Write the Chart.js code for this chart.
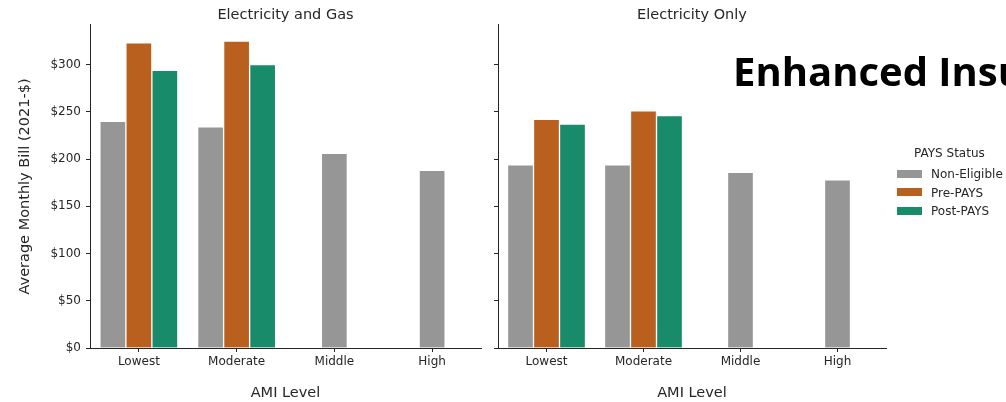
<!DOCTYPE html>
<html>
<head>
<meta charset="utf-8">
<script src="https://cdn.jsdelivr.net/npm/chart.js@4/dist/chart.umd.min.js"></script>
<style>
  html, body { margin: 0; padding: 0; background: #fff; overflow: hidden; }
  body { width: 1006px; height: 402px; position: relative; font-family: 'DejaVu Sans', sans-serif; }
  #gas { position: absolute; left: 0; top: 0; }
  #elec { position: absolute; left: 490px; top: 0; }
  .legend { position: absolute; left: 897px; top: 146px; color: #262626; font-size: 12px; }
  .legend .ttl { position: absolute; left: 17px; top: 0; white-space: nowrap; }
  .legend .row { position: absolute; left: 0; white-space: nowrap; height: 14px; line-height: 14px; }
  .legend .sw { display: inline-block; width: 25px; height: 8px; vertical-align: middle; margin-right: 9px; position: relative; top: -1px; }
  .banner { position: absolute; left: 733px; top: 43px; font-family: 'Open Sans', sans-serif; font-weight: bold; font-size: 40px; color: #000; white-space: nowrap; line-height: 56px; }
</style>
</head>
<body>
<canvas id="gas" width="490" height="402"></canvas>
<canvas id="elec" width="516" height="402"></canvas>
<div class="legend" id="legend"></div>
<div class="banner">Enhanced Insulation</div>
<script>
// data
const categories = ['Lowest', 'Moderate', 'Middle', 'High'];
const seriesNames = ['Non-Eligible', 'Pre-PAYS', 'Post-PAYS'];
const seriesColors = ['#969696', '#b9601f', '#178b6a'];

const gasNonEligible = [240, 234, 206, 188];
const gasPre = [323, 325, null, null];
const gasPost = [294, 300, null, null];

const elecNonEligible = [194, 194, 186, 178];
const elecPre = [242, 251, null, null];
const elecPost = [237, 246, null, null];

const yMax = 342;
const yStep = 50;

Chart.defaults.font.family = 'DejaVu Sans';
Chart.defaults.color = '#262626';

function makeSets(vals) {
  return vals.map((v, i) => ({
    label: seriesNames[i],
    data: v,
    backgroundColor: seriesColors[i],
    borderColor: 'rgba(255,255,255,0.3)',
    borderWidth: 1,
    barThickness: 26,
    skipNull: true
  }));
}

function makeChart(el, title, vals, first) {
  return new Chart(document.getElementById(el), {
    type: 'bar',
    data: { labels: categories, datasets: makeSets(vals) },
    options: {
      responsive: false,
      animation: false,
      layout: { padding: { left: 0, right: first ? 9 : 120, top: 0, bottom: 0 } },
      plugins: {
        legend: { display: false },
        tooltip: { enabled: false },
        title: {
          display: true,
          text: title,
          fullSize: false,
          color: '#262626',
          font: { size: 14.5, weight: 'normal' },
          padding: { top: 7, bottom: 0.5 }
        }
      },
      scales: {
        x: {
          grid: { offset: false, drawOnChartArea: false, drawTicks: true, tickLength: 4, color: '#262626' },
          border: { display: true, color: '#262626', width: 1 },
          ticks: { font: { size: 12 }, padding: 3, color: '#262626' },
          title: { display: true, text: 'AMI Level', font: { size: 14.5 }, color: '#262626', padding: { top: 0, bottom: 0 } },
          afterFit: s => { s.height = 54; }
        },
        y: {
          min: 0,
          max: yMax,
          grid: { drawOnChartArea: false, drawTicks: true, tickLength: 4, color: '#262626' },
          border: { display: true, color: '#262626', width: 1 },
          ticks: {
            display: first,
            stepSize: yStep,
            includeBounds: false,
            padding: 5,
            font: { size: 12 },
            color: '#262626',
            callback: v => '$' + v
          },
          title: {
            display: first,
            text: 'Average Monthly Bill (2021-$)',
            font: { size: 14.5 },
            color: '#262626',
            padding: { top: 17, bottom: 0 }
          },
          afterFit: s => { s.width = first ? 90 : 8; }
        }
      }
    }
  });
}

makeChart('gas', 'Electricity and Gas', [gasNonEligible, gasPre, gasPost], true);
makeChart('elec', 'Electricity Only', [elecNonEligible, elecPre, elecPost], false);

// legend
const legend = document.getElementById('legend');
legend.innerHTML = '<div class="ttl">PAYS Status</div>';
seriesNames.forEach((name, i) => {
  const row = document.createElement('div');
  row.className = 'row';
  row.style.top = (21 + i * 18.5) + 'px';
  row.innerHTML = '<span class="sw" style="background:' + seriesColors[i] + '"></span>' + name;
  legend.appendChild(row);
});
</script>
</body>
</html>
